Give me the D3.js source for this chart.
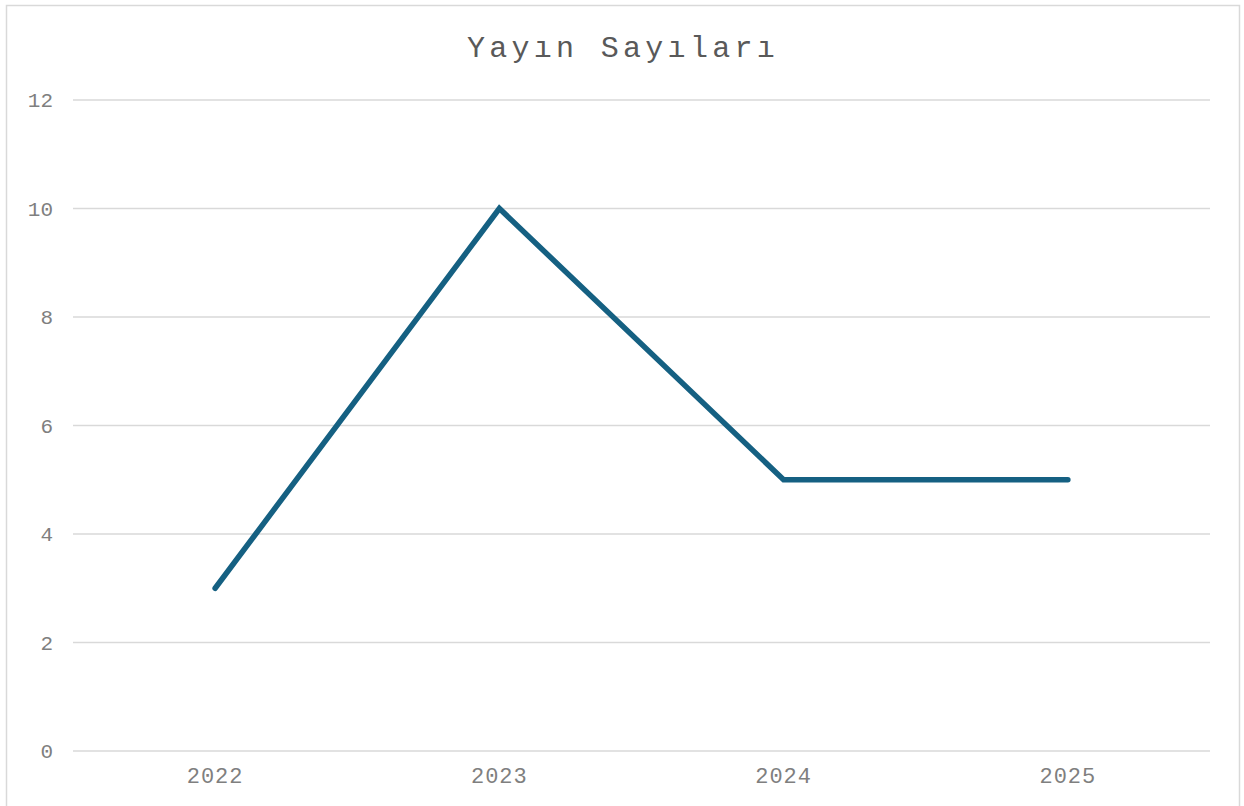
<!DOCTYPE html>
<html><head><meta charset="utf-8">
<script src="https://cdn.jsdelivr.net/npm/d3@7"></script>
<style>body{margin:0;background:#fff}svg{display:block}</style>
</head><body>
<script>
const categories = ["2022","2023","2024","2025"];
const values = [3,10,5,5];
const yTicks = [0,2,4,6,8,10,12];
const title = "Yayın Sayıları";

const W=1244,H=806;
const svg=d3.select("body").append("svg").attr("width",W).attr("height",H);
svg.append("rect").attr("x",6.5).attr("y",5.5).attr("width",1233).attr("height",820)
  .attr("fill","#fff").attr("stroke","#d9d9d9").attr("stroke-width",1.5);

const x=d3.scaleBand().domain(categories).range([73,1210]);
const y=d3.scaleLinear().domain([0,12]).range([751,100]);
const font="'Liberation Mono','Courier New',monospace";

const grid=svg.append("g");
grid.selectAll("line").data(yTicks).join("line")
  .attr("x1",73).attr("x2",1210).attr("y1",d=>y(d)).attr("y2",d=>y(d))
  .attr("stroke","#d9d9d9").attr("stroke-width",1.5);

const yAxis=svg.append("g").attr("transform","translate(73,0)")
  .call(d3.axisLeft(y).tickValues(yTicks).tickSize(0).tickPadding(20));
yAxis.select(".domain").remove();
yAxis.selectAll("text").attr("font-family",font).attr("font-size",21).attr("fill","#7f7f7f");

const xAxis=svg.append("g").attr("transform","translate(0,751)")
  .call(d3.axisBottom(x).tickSize(0).tickPadding(16));
xAxis.select(".domain").remove();
xAxis.selectAll("text").attr("font-family",font).attr("font-size",22).attr("fill","#7f7f7f")
  .attr("letter-spacing",1);

svg.append("path").datum(values)
  .attr("d",d3.line().x((d,i)=>x(categories[i])+x.bandwidth()/2).y(d=>y(d)))
  .attr("fill","none").attr("stroke","#156082").attr("stroke-width",5.5)
  .attr("stroke-linejoin","miter").attr("stroke-linecap","round");

svg.append("text").attr("x",623).attr("y",57).attr("text-anchor","middle")
  .attr("font-family",font).attr("font-size",30).attr("letter-spacing",4.3)
  .attr("fill","#595959").text(title);
</script>
</body></html>
